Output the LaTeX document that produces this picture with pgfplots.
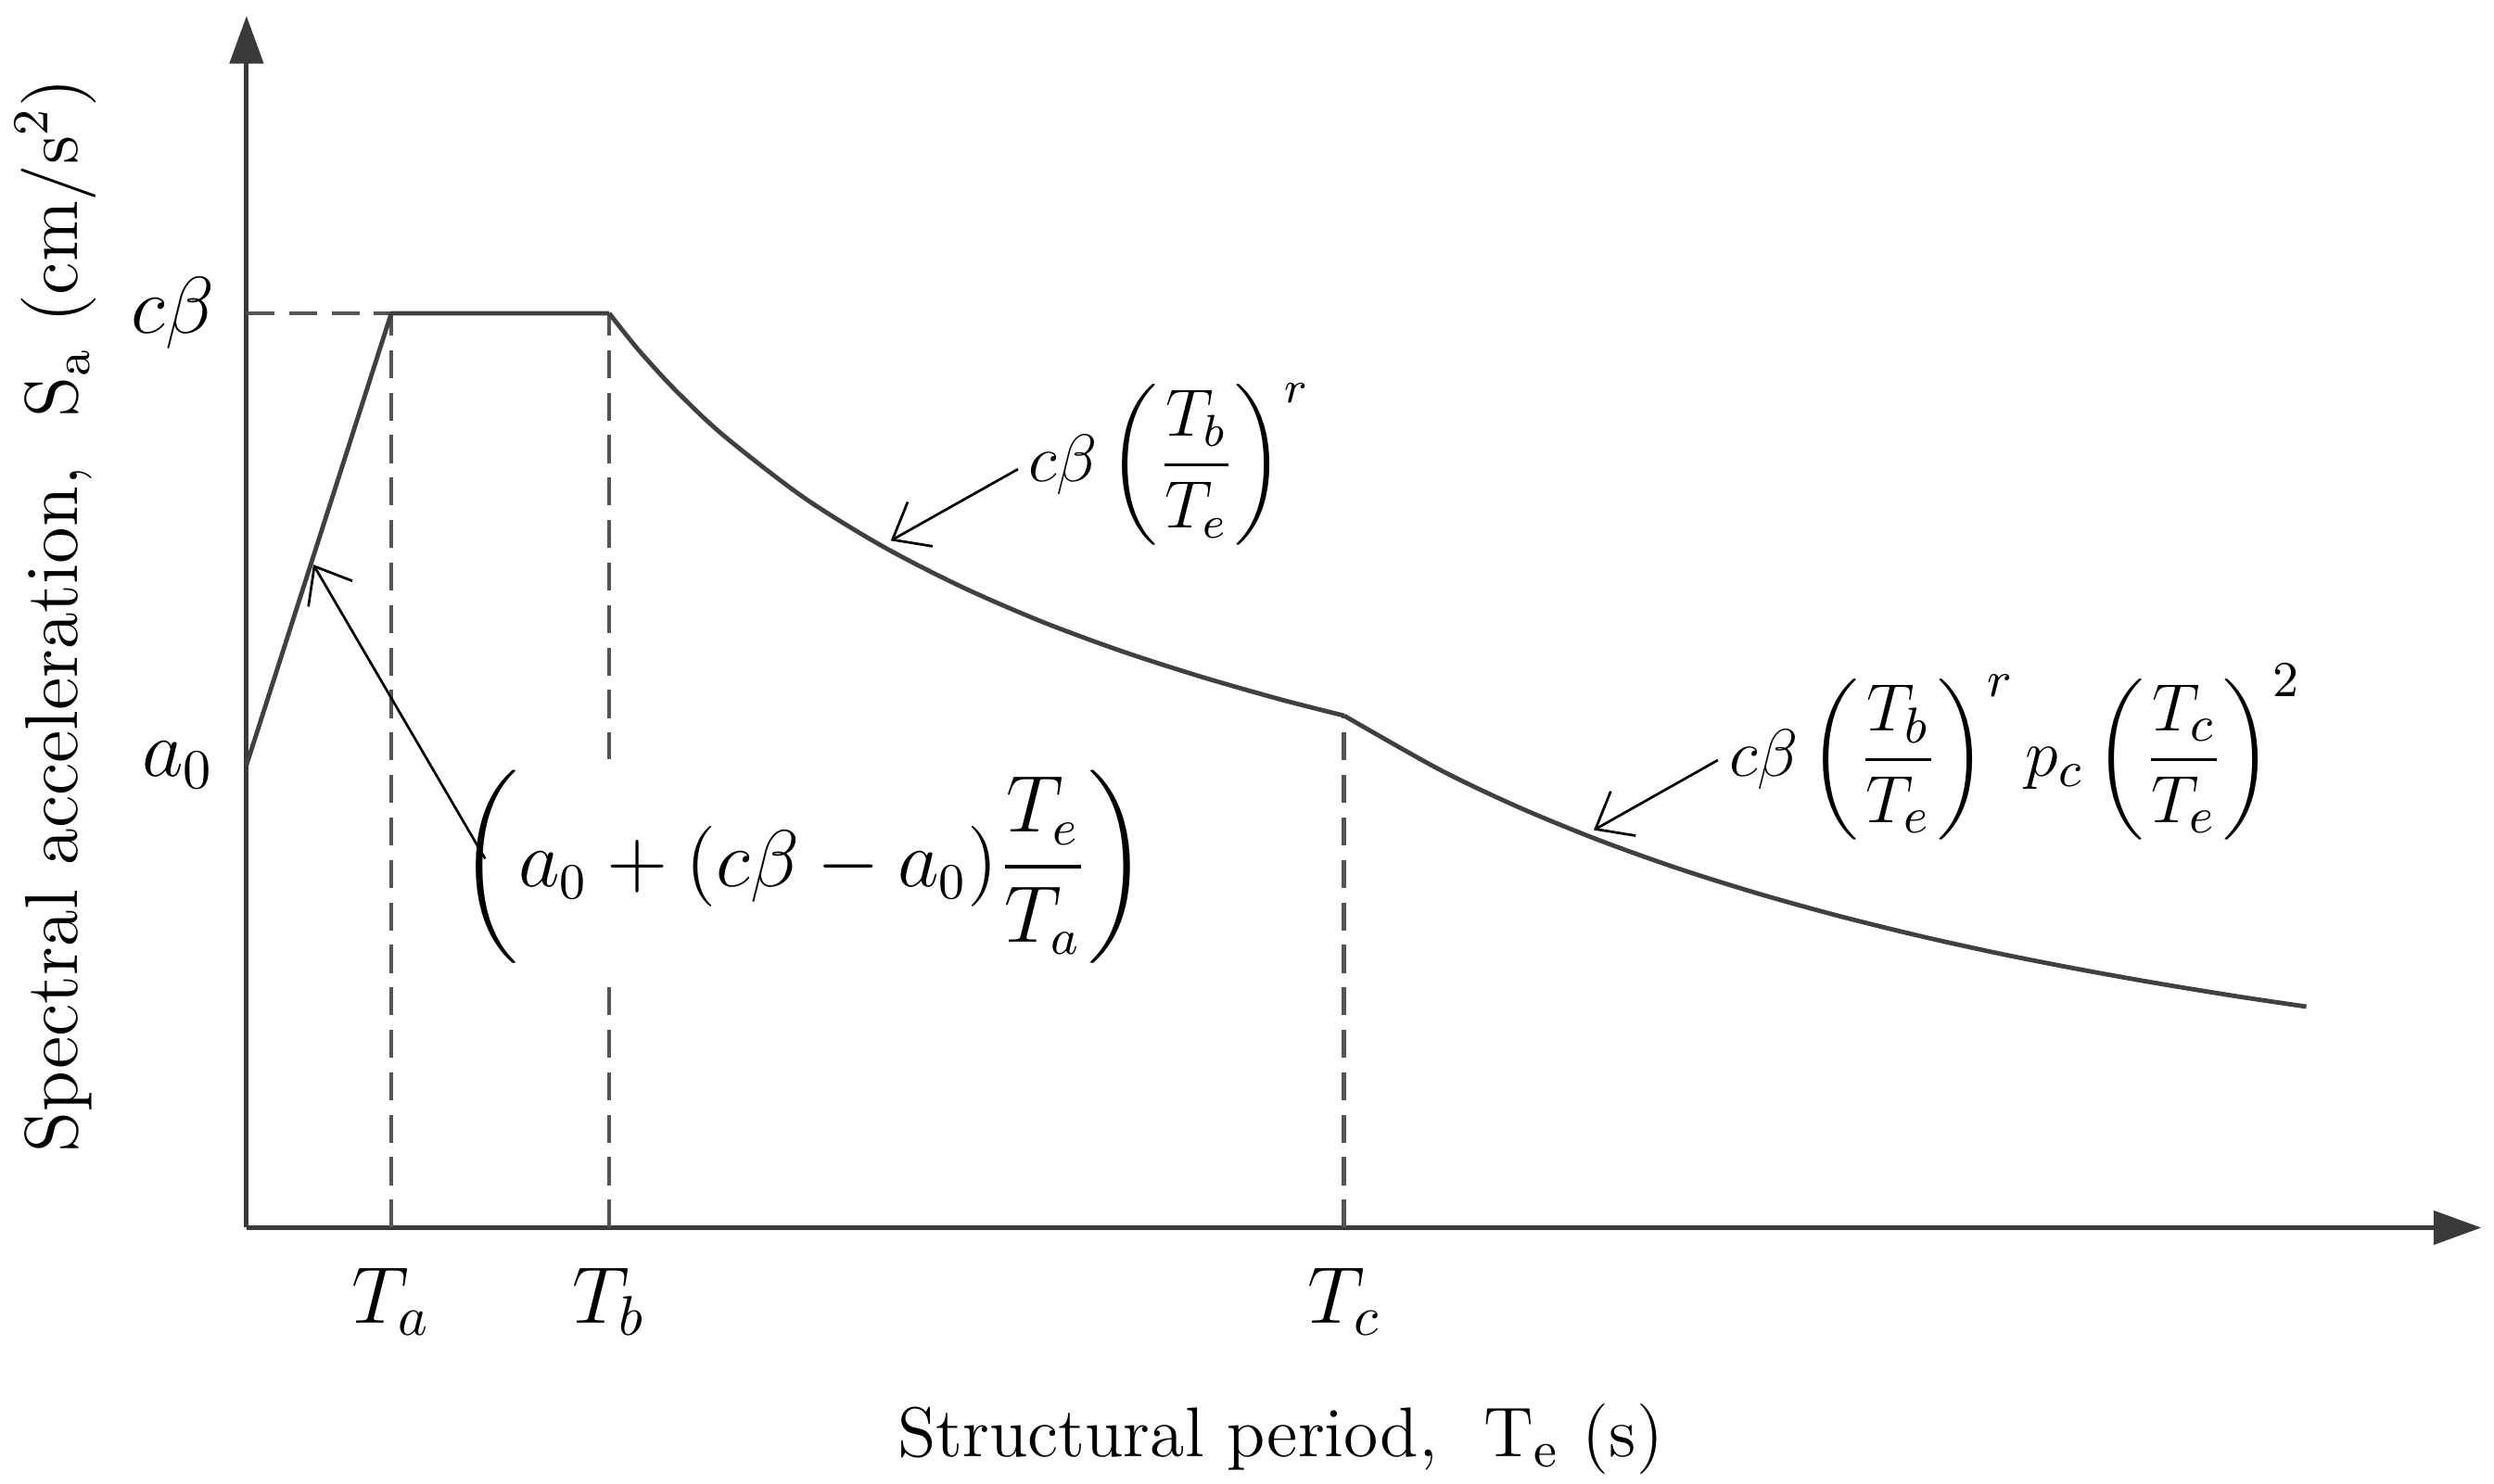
\documentclass[border=0pt]{standalone}
\usepackage{amsmath}
\usepackage{pgfplots}
\pgfplotsset{compat=1.18}
\usetikzlibrary{arrows.meta}
\definecolor{axgray}{HTML}{3A3A3A}
\definecolor{curvegray}{HTML}{404040}
\definecolor{dashgray}{HTML}{555555}

\begin{document}
\begin{tikzpicture}
\begin{axis}[
  x=1cm, y=1cm,
  xmin=0, xmax=14.05, ymin=0, ymax=7.62,
  axis lines=left,
  axis line style={line width=0.8pt, draw=axgray, -{Triangle[length=3mm,width=2.1mm]}},
  clip=false,
  xtick={0.91,2.28,6.9},
  xticklabels={$T_a$,$T_b$,$T_c$},
  ytick={2.91,5.75},
  yticklabels={$a_0$,$c\beta$},
  major tick length=0pt,
  tick label style={font=\Large},
  xticklabel style={yshift=-0.13cm},
  yticklabel style={xshift=-0.08cm},
  xlabel={Structural period,\ \ T$_\mathrm{e}$ (s)},
  ylabel={Spectral acceleration,\ \ S$_\mathrm{a}$ (cm/s$^2$)},
  every axis x label/.style={at={(axis cs:6.5,-1.33)}, anchor=center, inner sep=0pt,
    font=\fontsize{12.6}{15}\selectfont},
  every axis y label/.style={at={(axis cs:-1.2,3.85)}, rotate=90, anchor=center, inner sep=0pt,
    font=\fontsize{13.4}{16}\selectfont},
]
% reference lines
\addplot[dashgray, line width=0.8pt, dash pattern=on 5pt off 2.6pt] coordinates {(0,5.75)(0.91,5.75)};
\addplot[dashgray, line width=0.8pt, dash pattern=on 5pt off 2.6pt] coordinates {(0.91,0)(0.91,5.75)};
\addplot[dashgray, line width=0.8pt, dash pattern=on 5pt off 2.6pt] coordinates {(2.28,0)(2.28,5.75)};
\addplot[dashgray, line width=0.8pt, dash pattern=on 5pt off 2.6pt] coordinates {(6.9,0)(6.9,3.22)};

% spectrum
\addplot[curvegray, line width=0.8pt, line join=round] coordinates {(0,2.91)(0.91,5.75)(2.28,5.75)};
\addplot[curvegray, line width=0.8pt, smooth] coordinates {
  (2.28,5.75)(2.4,5.598)(2.5,5.479)(2.7,5.263)(3.0,4.981)(3.5,4.594)(4.0,4.284)
  (4.5,4.028)(5.0,3.811)(5.5,3.626)(6.0,3.465)(6.5,3.322)(6.9,3.22)};
\addplot[curvegray, line width=0.8pt, smooth] coordinates {
  (6.9,3.22)(7.5,2.881)(8.0,2.643)(8.5,2.438)(9.0,2.259)(9.5,2.102)(10.0,1.963)
  (10.5,1.839)(11.0,1.728)(11.5,1.629)(12.0,1.539)(12.5,1.457)(12.95,1.39)};

% formulas
\node[font=\large, inner sep=1pt] at (axis cs:5.80,4.80)
  {$\displaystyle c\beta\,\biggl(\frac{T_b}{T_e}\biggr)^{r}$};
\node[font=\fontsize{12.6}{15}\selectfont, inner sep=1pt] at (axis cs:11.12,2.99)
  {$\displaystyle c\beta\,\biggl(\frac{T_b}{T_e}\biggr)^{r}\, p_c\,\biggl(\frac{T_c}{T_e}\biggr)^{2}$};
\node[font=\fontsize{13.4}{16}\selectfont, fill=white, inner sep=2pt] at (axis cs:3.50,2.27)
  {$\displaystyle \biggl(a_0+(c\beta-a_0)\frac{T_e}{T_a}\biggr)$};

\draw[black, line width=0.45pt, -{Straight Barb[length=2mm,width=3.2mm]}] (axis cs:4.85,4.77) -- (axis cs:4.05,4.32);
\draw[black, line width=0.45pt, -{Straight Barb[length=2mm,width=3.2mm]}] (axis cs:9.25,2.94) -- (axis cs:8.47,2.50);
\draw[black, line width=0.45pt, -{Straight Barb[length=2mm,width=3.2mm]}] (axis cs:1.50,2.32) -- (axis cs:0.42,4.17);

\path (axis cs:-1.55,-1.61) rectangle (axis cs:14.13,7.72);
\end{axis}
\end{tikzpicture}
\end{document}
